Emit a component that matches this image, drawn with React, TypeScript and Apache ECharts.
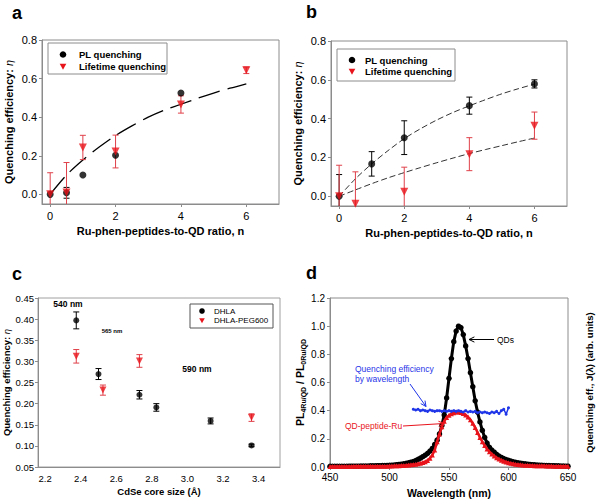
import React, { useEffect, useRef } from 'react';
import * as echarts from 'echarts';

// ---------- Panel a ----------
const aN = [0, 0.5, 1, 2, 4];
const aPL = [0, 0.008, 0.1, 0.203, 0.525];
const aPLerr = [0, 0.028, 0, 0, 0];
const aLTn = [0, 0.5, 1, 2, 4, 6];
const aLT = [0, 0.01, 0.243, 0.222, 0.466, 0.643];
const aLTerr = [0.112, 0.155, 0.063, 0.085, 0.045, 0.017];
const fitN = [0, 0.5, 1, 1.5, 2, 2.5, 3, 3.5, 4, 4.5, 5, 5.5, 6];
const aFit = [0, 0.1, 0.178, 0.245, 0.305, 0.355, 0.4, 0.437, 0.467, 0.497, 0.525, 0.55, 0.573];

// ---------- Panel b ----------
const bN = [0, 1, 2, 4, 6];
const bPL = [0, 0.167, 0.302, 0.467, 0.579];
const bPLerr = [0.112, 0.063, 0.087, 0.044, 0.021];
const bLTn = [0, 0.5, 2, 4, 6];
const bLT = [0, -0.038, 0.024, 0.217, 0.364];
const bLTerr = [0.16, 0.164, 0.126, 0.085, 0.07];
const bFitPL = [0, 0.09, 0.167, 0.235, 0.297, 0.348, 0.393, 0.432, 0.466, 0.498, 0.528, 0.554, 0.578];
const bFitLT = [0, 0.033, 0.065, 0.095, 0.122, 0.148, 0.173, 0.197, 0.22, 0.241, 0.261, 0.281, 0.3];

// ---------- Panel c ----------
const cDHLAx = [2.375, 2.5, 2.73, 2.825, 3.13, 3.36];
const cDHLA = [0.397, 0.27, 0.221, 0.191, 0.159, 0.101];
const cDHLAerr = [0.02, 0.013, 0.01, 0.009, 0.007, 0.003];
const cPEGx = [2.375, 2.525, 2.73, 3.36];
const cPEG = [0.312, 0.232, 0.301, 0.167];
const cPEGerr = [0.016, 0.012, 0.015, 0.009];

// ---------- Panel d ----------
const wlStart = 450;
const wlStep = 2;
const qdPL = [
  0.005, 0.005, 0.005, 0.005, 0.005, 0.005, 0.005, 0.005, 0.006, 0.006, 0.006, 0.006, 0.006, 0.007, 0.007, 0.007, 0.007, 0.008, 0.008, 0.008, 0.009, 0.009, 0.010, 0.010, 0.011,
  0.012, 0.013, 0.014, 0.016, 0.018, 0.020, 0.023, 0.026, 0.030, 0.034, 0.039, 0.046, 0.054, 0.063, 0.073, 0.084, 0.097, 0.113, 0.132, 0.160, 0.190, 0.235, 0.295, 0.370, 0.490,
  0.630, 0.770, 0.890, 0.965, 1.000, 0.990, 0.940, 0.860, 0.770, 0.670, 0.570, 0.470, 0.390, 0.320, 0.260, 0.210, 0.170, 0.140, 0.120, 0.105, 0.090, 0.078, 0.068, 0.060, 0.053,
  0.047, 0.042, 0.037, 0.033, 0.030, 0.027, 0.024, 0.022, 0.020, 0.018, 0.016, 0.015, 0.014, 0.013, 0.012, 0.011, 0.010, 0.010, 0.009, 0.009, 0.008, 0.008, 0.007, 0.007, 0.006, 0.006,
];
const ruPL = [
  0.004, 0.004, 0.004, 0.004, 0.004, 0.004, 0.004, 0.004, 0.004, 0.004, 0.005, 0.005, 0.005, 0.005, 0.005, 0.005, 0.005, 0.005, 0.005, 0.006, 0.006, 0.006, 0.006, 0.006, 0.006,
  0.007, 0.007, 0.008, 0.008, 0.009, 0.010, 0.011, 0.012, 0.014, 0.016, 0.018, 0.020, 0.023, 0.027, 0.032, 0.038, 0.047, 0.062, 0.085, 0.120, 0.180, 0.235, 0.285, 0.325, 0.352,
  0.367, 0.378, 0.385, 0.390, 0.390, 0.387, 0.380, 0.370, 0.355, 0.335, 0.310, 0.280, 0.245, 0.210, 0.180, 0.152, 0.128, 0.108, 0.092, 0.078, 0.066, 0.056, 0.048, 0.041, 0.035,
  0.030, 0.026, 0.023, 0.020, 0.018, 0.016, 0.014, 0.013, 0.012, 0.011, 0.010, 0.009, 0.009, 0.008, 0.008, 0.008, 0.007, 0.007, 0.007, 0.006, 0.006, 0.006, 0.006, 0.005, 0.005, 0.005,
];
const effStart = 520;
const effByWl = [
  0.41, 0.405, 0.41, 0.40, 0.405, 0.40, 0.395, 0.405, 0.40, 0.395, 0.40, 0.40, 0.395, 0.40, 0.395, 0.40, 0.395, 0.40, 0.395, 0.40, 0.395,
  0.39, 0.40, 0.39, 0.395, 0.39, 0.395, 0.385, 0.39, 0.385, 0.39, 0.385, 0.38, 0.39, 0.385, 0.395, 0.38, 0.40, 0.41, 0.375, 0.42,
];

const FF = '"Liberation Sans", Arial, Helvetica, sans-serif';
const GRAY = '#8c8c8c';
const RED = '#e8141c';
const RED_BAR = '#e0404a';
const BLUE = '#1f35e8';

const pairs = (xs: number[], ys: number[]) => xs.map((x, i) => [x, ys[i]]);
const grid = (xs0: number, step: number, ys: number[]) => ys.map((y, i) => [xs0 + i * step, y]);

function errSeries(ai: number, xs: number[], ys: number[], es: number[], color: string) {
  const data = xs.map((x, i) => [x, ys[i] - es[i], ys[i] + es[i]]).filter((_, i) => es[i] > 0);
  return {
    type: 'custom',
    xAxisIndex: ai,
    yAxisIndex: ai,
    z: 2,
    silent: true,
    encode: { x: 0, y: [1, 2] },
    data,
    renderItem: (params: any, api: any) => {
      const cs = params.coordSys;
      const top = cs.y;
      const bot = cs.y + cs.height;
      const x = api.value(0);
      const pLo = api.coord([x, api.value(1)]);
      const pHi = api.coord([x, api.value(2)]);
      const cx = pLo[0];
      const cLo = pLo[1] > bot;
      const cHi = pHi[1] < top;
      const yLo = Math.min(pLo[1], bot);
      const yHi = Math.max(pHi[1], top);
      const st = { stroke: color, lineWidth: 1 };
      const w = 3;
      const children: any[] = [
        { type: 'line', shape: { x1: cx, y1: yLo, x2: cx, y2: yHi }, style: st },
      ];
      if (!cLo) children.push({ type: 'line', shape: { x1: cx - w, y1: yLo, x2: cx + w, y2: yLo }, style: st });
      if (!cHi) children.push({ type: 'line', shape: { x1: cx - w, y1: yHi, x2: cx + w, y2: yHi }, style: st });
      return { type: 'group', children };
    },
  };
}

function scatter(ai: number, data: number[][], kind: 'circle' | 'tri', size: number) {
  return {
    type: 'scatter',
    xAxisIndex: ai,
    yAxisIndex: ai,
    z: 3,
    clip: false,
    data,
    symbol: kind === 'circle' ? 'circle' : 'triangle',
    symbolRotate: kind === 'circle' ? 0 : 180,
    symbolSize: size,
    itemStyle: { color: kind === 'circle' ? '#000' : RED },
  };
}

function fitLine(ai: number, data: number[][], dash: number[], width: number, color: string) {
  return {
    type: 'line',
    xAxisIndex: ai,
    yAxisIndex: ai,
    z: 1,
    data,
    smooth: 0.3,
    showSymbol: false,
    symbol: 'none',
    lineStyle: { color, width, type: dash },
  };
}

const tickStyle = { show: true, inside: false, length: 3, lineStyle: { color: GRAY } };
const lineStyleAxis = { show: true, onZero: false, lineStyle: { color: GRAY, width: 1 } };
const etaName = '{t|Quenching efficiency: }{e|η}';
const etaRich = (fs: number) => ({
  rich: {
    t: { fontFamily: FF, fontWeight: 'bold', fontSize: fs, color: '#000' },
    e: { fontFamily: FF, fontStyle: 'italic', fontSize: fs, color: '#000' },
  },
});
const boldName = (fs: number) => ({ fontFamily: FF, fontWeight: 'bold', fontSize: fs, color: '#000' });
const mult = (v: number, step: number) => Math.abs(v / step - Math.round(v / step)) < 1e-6;

function arrowEls(x1: number, y1: number, x2: number, y2: number, color: string) {
  const dx = x2 - x1, dy = y2 - y1, L = Math.hypot(dx, dy);
  const bx = -dx / L, by = -dy / L;
  const h = 6, a = Math.PI / 7;
  const p1 = [x2 + h * (bx * Math.cos(a) - by * Math.sin(a)), y2 + h * (bx * Math.sin(a) + by * Math.cos(a))];
  const p2 = [x2 + h * (bx * Math.cos(-a) - by * Math.sin(-a)), y2 + h * (bx * Math.sin(-a) + by * Math.cos(-a))];
  return [
    { type: 'line', z: 100, shape: { x1, y1, x2, y2 }, style: { stroke: color, lineWidth: 1 } },
    { type: 'polyline', z: 100, shape: { points: [p1, [x2, y2], p2] }, style: { stroke: color, lineWidth: 1, fill: 'none' } },
  ];
}

function txt(x: number, y: number, text: string, font: string, fill = '#000', align = 'left') {
  return { type: 'text', z: 100, x, y, style: { text, font, fill, textAlign: align, textVerticalAlign: 'middle' } };
}

function legendEls(x0: number, y0: number, x1: number, y1: number, mx: number, tx: number, rows: number[], labels: string[], font: string, r: number, border: string) {
  const els: any[] = [
    { type: 'rect', z: 99, shape: { x: x0, y: y0, width: x1 - x0, height: y1 - y0 }, style: { fill: '#fff', stroke: border, lineWidth: 1 } },
    { type: 'circle', z: 100, shape: { cx: mx, cy: rows[0], r }, style: { fill: '#000' } },
    { type: 'polygon', z: 100, shape: { points: [[mx - r, rows[1] - r * 0.8], [mx + r, rows[1] - r * 0.8], [mx, rows[1] + r]] }, style: { fill: RED } },
    txt(tx, rows[0], labels[0], font),
    txt(tx, rows[1], labels[1], font),
  ];
  return els;
}

export default function App() {
  const ref = useRef<HTMLDivElement>(null);
  useEffect(() => {
    if (!ref.current) return;
    const chart = echarts.init(ref.current, undefined, { renderer: 'svg' });
    const abX = (gi: number) => ({
      type: 'value', gridIndex: gi, min: -0.25, max: 7, splitNumber: 4,
      axisLine: lineStyleAxis, axisTick: tickStyle, splitLine: { show: false },
      axisLabel: { color: '#000', fontFamily: FF, fontSize: 11, margin: 6, showMinLabel: false, showMaxLabel: false,
        formatter: (v: number) => (mult(v, 2) ? String(Math.round(v)) : '') },
      name: 'Ru-phen-peptides-to-QD ratio, n', nameLocation: 'middle', nameGap: 21, nameTextStyle: boldName(11),
    });
    const abY = (gi: number) => ({
      type: 'value', gridIndex: gi, min: -0.05, max: 0.8, splitNumber: 5,
      axisLine: lineStyleAxis, axisTick: tickStyle, splitLine: { show: false },
      axisLabel: { color: '#000', fontFamily: FF, fontSize: 11, margin: 5, showMinLabel: false,
        formatter: (v: number) => (mult(v, 0.2) ? v.toFixed(1) : '') },
      name: etaName, nameLocation: 'middle', nameGap: 28, nameTextStyle: etaRich(11),
    });
    const option: any = {
      animation: false,
      backgroundColor: '#fff',
      grid: [
        { left: 42, top: 40, width: 237, height: 164, show: true, borderColor: GRAY, borderWidth: 1, backgroundColor: 'transparent' },
        { left: 331, top: 41, width: 236, height: 165, show: true, borderColor: GRAY, borderWidth: 1, backgroundColor: 'transparent' },
        { left: 38, top: 298, width: 242, height: 169, show: true, borderColor: '#a0a0a0', borderWidth: 1, backgroundColor: 'transparent' },
        { left: 330, top: 298, width: 238, height: 169, show: true, borderColor: GRAY, borderWidth: 1, backgroundColor: 'transparent' },
      ],
      xAxis: [
        abX(0),
        abX(1),
        {
          type: 'value', gridIndex: 2, min: 2.16, max: 3.52, splitNumber: 7,
          axisLine: lineStyleAxis, axisTick: { show: false }, splitLine: { show: false },
          axisLabel: { color: '#000', fontFamily: FF, fontSize: 9.5, margin: 6, showMinLabel: false, showMaxLabel: false,
            formatter: (v: number) => (mult(v, 0.2) ? v.toFixed(1) : '') },
          name: 'CdSe core size (Å)', nameLocation: 'middle', nameGap: 19, nameTextStyle: boldName(9.5),
        },
        {
          type: 'value', gridIndex: 3, min: 450, max: 650, interval: 50,
          axisLine: lineStyleAxis, axisTick: tickStyle, splitLine: { show: false },
          axisLabel: { color: '#000', fontFamily: FF, fontSize: 10, margin: 5 },
          name: 'Wavelength (nm)', nameLocation: 'middle', nameGap: 20, nameTextStyle: boldName(10.5),
        },
      ],
      yAxis: [
        abY(0),
        abY(1),
        {
          type: 'value', gridIndex: 2, min: 0.05, max: 0.45, interval: 0.05,
          axisLine: lineStyleAxis, axisTick: tickStyle, splitLine: { show: false },
          axisLabel: { color: '#000', fontFamily: FF, fontSize: 9.5, margin: 4, formatter: (v: number) => v.toFixed(2) },
          name: etaName, nameLocation: 'middle', nameGap: 25, nameTextStyle: etaRich(9.5),
        },
        {
          type: 'value', gridIndex: 3, min: 0, max: 1.2, interval: 0.2,
          axisLine: lineStyleAxis, axisTick: tickStyle, splitLine: { show: false },
          axisLabel: { color: '#000', fontFamily: FF, fontSize: 10, margin: 5, formatter: (v: number) => v.toFixed(1) },
          name: '{b|PL}{s|4Ru/QD}{b| / PL}{s|0Ru/QD}', nameLocation: 'middle', nameGap: 21,
          nameTextStyle: {
            rich: {
              b: { fontFamily: FF, fontWeight: 'bold', fontSize: 10.5, color: '#000', lineHeight: 14, verticalAlign: 'middle' },
              s: { fontFamily: FF, fontWeight: 'bold', fontSize: 7, color: '#000', lineHeight: 14, verticalAlign: 'bottom', padding: [5, 0, 0, 0] },
            },
          },
        },
        {
          type: 'value', gridIndex: 3, position: 'right', min: 0, max: 1.2, interval: 0.2,
          axisLine: { show: false }, axisTick: { show: false }, axisLabel: { show: false }, splitLine: { show: false },
          name: 'Quenching eff., J(λ) (arb. units)', nameLocation: 'middle', nameGap: 16, nameTextStyle: boldName(9.5),
        },
      ],
      series: [
        // panel a
        fitLine(0, pairs(fitN, aFit), [22, 8], 1.3, '#000'),
        errSeries(0, aN, aPL, aPLerr, '#000'),
        errSeries(0, aLTn, aLT, aLTerr, RED_BAR),
        scatter(0, pairs(aN, aPL), 'circle', 7),
        scatter(0, pairs(aLTn, aLT), 'tri', 8),
        // panel b
        fitLine(1, pairs(fitN, bFitPL), [6, 3], 1, '#333'),
        fitLine(1, pairs(fitN, bFitLT), [6, 3], 1, '#333'),
        errSeries(1, bN, bPL, bPLerr, '#000'),
        errSeries(1, bLTn, bLT, bLTerr, RED_BAR),
        scatter(1, pairs(bN, bPL), 'circle', 7),
        scatter(1, pairs(bLTn, bLT), 'tri', 8),
        // panel c
        errSeries(2, cDHLAx, cDHLA, cDHLAerr, '#000'),
        errSeries(2, cPEGx, cPEG, cPEGerr, RED_BAR),
        scatter(2, pairs(cDHLAx, cDHLA), 'circle', 6),
        scatter(2, pairs(cPEGx, cPEG), 'tri', 7),
        // panel d
        {
          type: 'line', xAxisIndex: 3, yAxisIndex: 3, z: 2, data: grid(wlStart, wlStep, qdPL),
          symbol: 'circle', symbolSize: 5.5, showSymbol: true, itemStyle: { color: '#000' }, lineStyle: { color: '#000', width: 3 },
        },
        {
          type: 'line', xAxisIndex: 3, yAxisIndex: 3, z: 3, data: grid(wlStart, wlStep, ruPL),
          symbol: 'triangle', symbolSize: 5, showSymbol: true, itemStyle: { color: RED }, lineStyle: { color: RED, width: 2.5 },
        },
        {
          type: 'line', xAxisIndex: 3, yAxisIndex: 3, z: 4, data: grid(effStart, wlStep, effByWl),
          symbol: 'circle', symbolSize: 3, showSymbol: true, itemStyle: { color: BLUE }, lineStyle: { color: BLUE, width: 1.5 },
        },
      ],
      graphic: [
        txt(12, 13, 'a', `bold 18px ${FF}`),
        txt(306, 12, 'b', `bold 18px ${FF}`),
        txt(12, 274, 'c', `bold 18px ${FF}`),
        txt(306, 273, 'd', `bold 18px ${FF}`),
        ...legendEls(48, 43, 167, 74, 63, 79, [54.5, 66.5], ['PL quenching', 'Lifetime quenching'], `bold 9.5px ${FF}`, 3.3, GRAY),
        ...legendEls(337, 49, 455, 81, 352, 365, [60, 71.5], ['PL quenching', 'Lifetime quenching'], `bold 9.5px ${FF}`, 3.3, GRAY),
        ...legendEls(190, 304, 273, 328, 202, 214, [311, 320.5], ['DHLA', 'DHLA-PEG600'], `8px ${FF}`, 2.8, '#555'),
        txt(68, 304, '540 nm', `bold 8.5px ${FF}`, '#000', 'center'),
        txt(112, 331, '565 nm', `bold 6px ${FF}`, '#000', 'center'),
        txt(197, 369, '590 nm', `bold 8.5px ${FF}`, '#000', 'center'),
        txt(497, 339.5, 'QDs', `8.5px ${FF}`),
        ...arrowEls(494, 339.5, 469, 339.5, '#000'),
        txt(355, 369, 'Quenching efficiency', `8.5px ${FF}`, BLUE),
        txt(355, 378.5, 'by wavelength', `8.5px ${FF}`, BLUE),
        ...arrowEls(410, 384, 426, 406.5, BLUE),
        txt(345, 426, 'QD-peptide-Ru', `8.5px ${FF}`, RED),
        ...arrowEls(403, 426, 444, 423.5, RED),
      ],
    };
    chart.setOption(option);
    return () => chart.dispose();
  }, []);
  return <div ref={ref} style={{ position: 'absolute', left: 0, top: 0, width: 600, height: 502 }} />;
}
